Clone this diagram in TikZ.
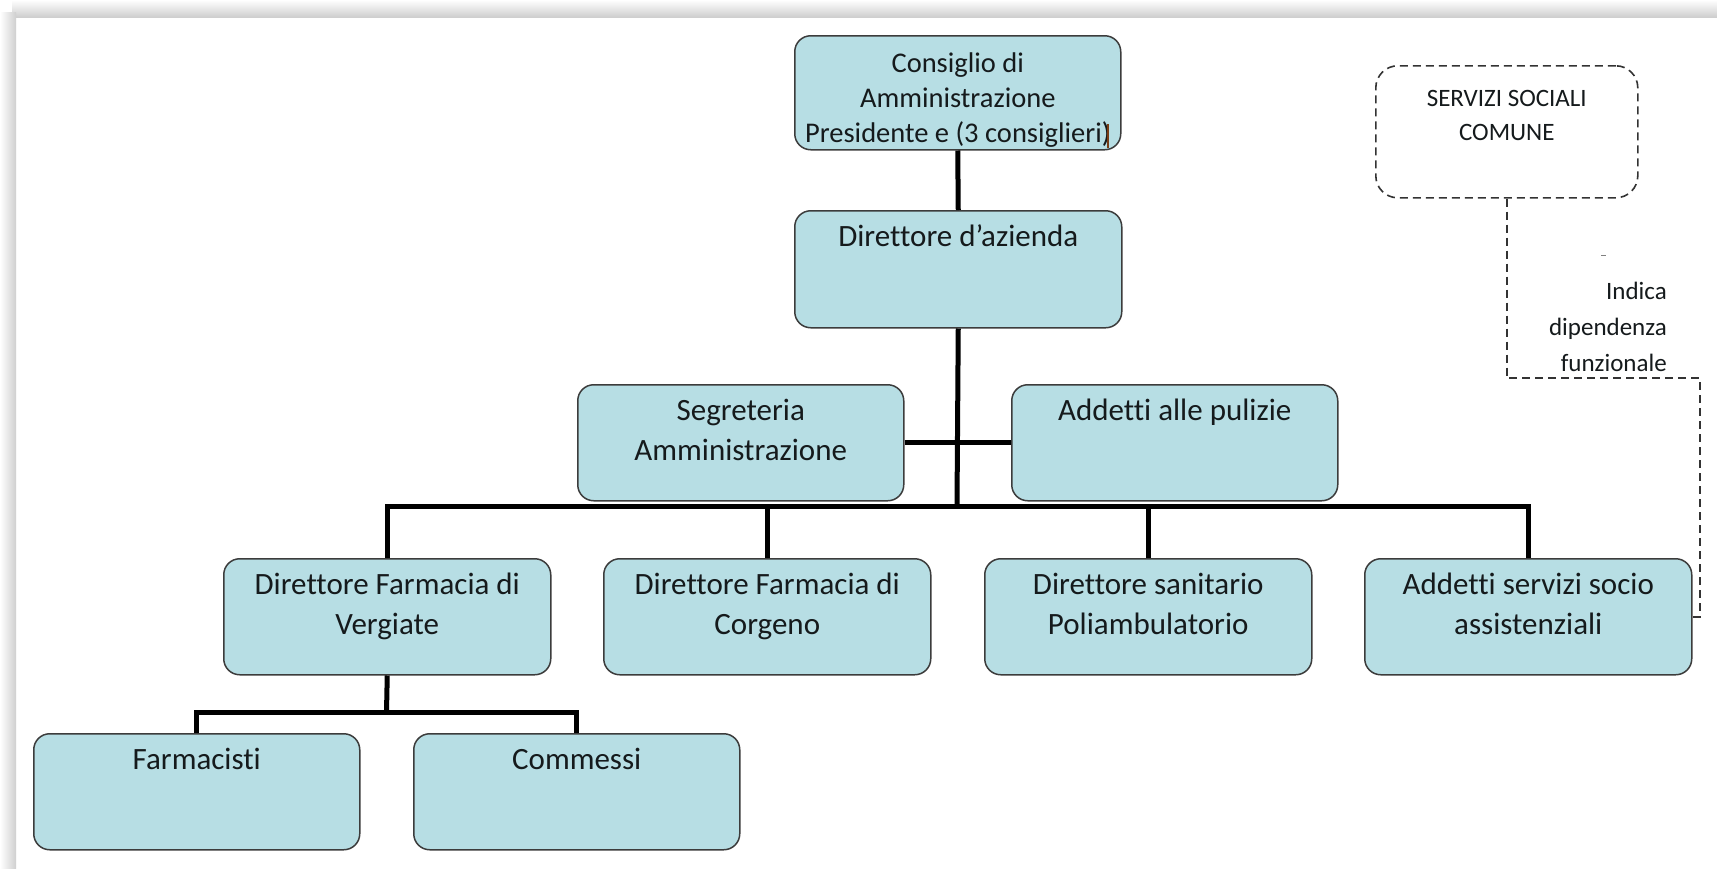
\documentclass[tikz,border=0pt]{standalone}
\usepackage{fontspec}
\setmainfont{Carlito}[Ligatures=NoCommon]
\definecolor{boxfill}{HTML}{B7DEE4}
\definecolor{boxline}{HTML}{3C3C3C}
\definecolor{txt}{HTML}{151A1C}
\definecolor{cursor}{RGB}{120,60,20}
\newcommand{\bt}[3]{\parbox[c][#2pt][t]{#1pt}{\centering\fontsize{31}{40}\selectfont\rule{0pt}{36pt}#3\par}}
\tikzset{
  orgbox/.style={draw=boxline, line width=1.5pt, fill=boxfill, rounded corners=16pt, inner sep=0pt, anchor=north west, text=txt},
  dashbox/.style={draw=black!80, line width=1.6pt, dash pattern=on 8pt off 5pt, rounded corners=22pt, inner sep=0pt, anchor=north west, text=txt},
  conn/.style={line width=5pt, black},
  dline/.style={draw=black!80, line width=1.6pt, dash pattern=on 8pt off 5pt},
}
\begin{document}
\begin{tikzpicture}[x=1pt,y=-1pt]
\useasboundingbox (0,0) rectangle (1717,868);
\fill[white] (0,0) rectangle (1717,868);
\shade[top color=white, bottom color=gray!38] (12,0) rectangle (1717,17);
\shade[left color=white, right color=gray!38] (0,12) rectangle (16,868);

% nodes
\node[orgbox] (cons) at (794,35) {\parbox[c][114pt][t]{326pt}{\centering\fontsize{28.5}{35}\selectfont\rule{0pt}{37pt}Consiglio di\\Amministrazione\\Presidente e (3 consiglieri)\par}};
\node[orgbox] (dir) at (794,210) {\bt{327}{117}{Direttore d’azienda}};
\node[orgbox] (seg) at (577,384) {\bt{326}{116}{Segreteria\\Amministrazione}};
\node[orgbox] (add) at (1011,384) {\bt{326}{116}{Addetti alle pulizie}};
\node[orgbox] (verg) at (223,558) {\bt{327}{116}{Direttore Farmacia di\\Vergiate}};
\node[orgbox] (corg) at (603,558) {\bt{327}{116}{Direttore Farmacia di\\Corgeno}};
\node[orgbox] (sanit) at (984,558) {\bt{327}{116}{Direttore sanitario\\Poliambulatorio}};
\node[orgbox] (socio) at (1364,558) {\bt{327}{116}{Addetti servizi socio\\assistenziali}};
\node[orgbox] (farm) at (33,733) {\bt{326}{116}{Farmacisti}};
\node[orgbox] (comm) at (413,733) {\bt{326}{116}{Commessi}};
\node[dashbox] (serv) at (1375,65) {\parbox[c][132pt][t]{262pt}{\centering\fontsize{25}{34}\selectfont\rule{0pt}{41pt}SERVIZI SOCIALI\\COMUNE\par}};
\node[inner sep=0pt, anchor=base east, text=txt] (note) at (1667,299) {\parbox[t]{160pt}{\raggedleft\fontsize{25}{36}\selectfont Indica\\dipendenza\\funzionale\par}};

% connectors
\coordinate (bar) at (957,506);
\coordinate (vbar) at (386.5,712);
\coordinate (dturn) at (1700,378);
\draw[conn] (cons.south) -- (dir.north);
\draw[conn] (dir.south) -- (bar);
\draw[conn] (seg.east) -- (add.west);
\draw[conn] (verg.north) |- (bar) -| (socio.north);
\draw[conn] (corg.north) -- (corg.north |- bar);
\draw[conn] (sanit.north) -- (sanit.north |- bar);
\draw[conn] (verg.south) -- (vbar);
\draw[conn] (farm.north) |- (vbar) -| (comm.north);
\draw[dline] (serv.south) |- (dturn) |- (socio.east);

% small marks
\draw[gray, line width=1pt] (1601,255) -- (1606,255);
\draw[cursor, line width=1.8pt] (1108,124) -- (1108,148);
\end{tikzpicture}
\end{document}
